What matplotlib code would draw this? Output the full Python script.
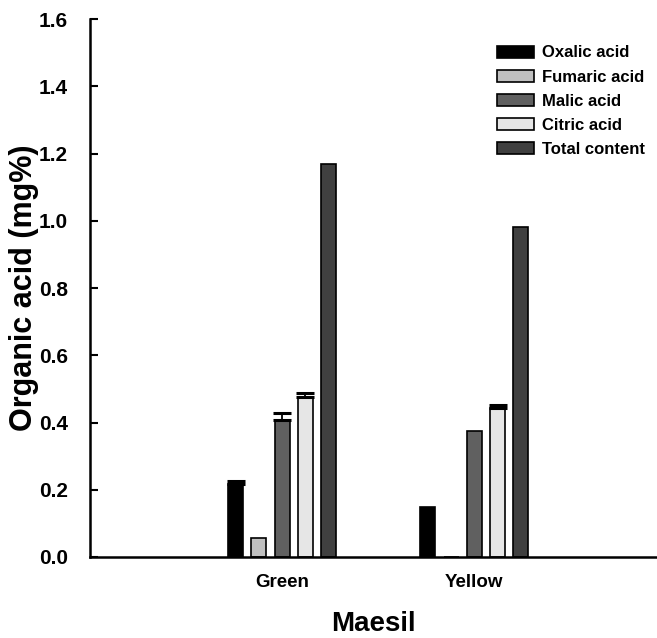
import matplotlib.pyplot as plt
import numpy as np

plt.rcParams['font.family'] = ['Liberation Sans', 'DejaVu Sans']
plt.rcParams['font.weight'] = 'bold'

# Daten
groups = ['Green', 'Yellow']
acids = ['Oxalic acid', 'Fumaric acid', 'Malic acid', 'Citric acid', 'Total content']
values = {
    'Oxalic acid': [0.217, 0.150],
    'Fumaric acid': [0.056, 0.0],
    'Malic acid': [0.406, 0.376],
    'Citric acid': [0.476, 0.444],
    'Total content': [1.170, 0.982],
}
errors = {
    'Oxalic acid': [0.009, 0.0],
    'Fumaric acid': [0.0, 0.0],
    'Malic acid': [0.022, 0.0],
    'Citric acid': [0.012, 0.008],
    'Total content': [0.0, 0.0],
}
colors = ['#000000', '#c0c0c0', '#606060', '#e6e6e6', '#404040']

fig = plt.figure(figsize=(6.57, 6.38), dpi=100)
ax = fig.add_axes([0.137, 0.127, 0.863, 0.843])

x = np.arange(1, len(groups) + 1)
width = 0.078
step = 0.121
for i, (acid, c) in enumerate(zip(acids, colors)):
    pos = x + (i - 2) * step
    vals = values[acid]
    err = errors[acid]
    ax.bar(pos, vals, width, color=c, edgecolor='black', linewidth=1.2, label=acid)
    for p, v, e in zip(pos, vals, err):
        if e > 0:
            ax.errorbar(p, v, yerr=[[0], [e]], fmt='none', ecolor='black',
                        elinewidth=1.3, capsize=6.2, capthick=2.2)

ax.set_xlim(0, 2.95)
ax.set_ylim(0, 1.6)
yt = np.arange(0, 1.61, 0.2)
ax.set_yticks(yt)
ax.set_yticklabels([f'{v:.1f}' for v in yt], fontsize=15, fontweight='bold')
ax.set_xticks(x)
ax.set_xticklabels(groups, fontsize=13.5, fontweight='bold')
ax.tick_params(axis='x', length=0, pad=12)
ax.tick_params(axis='y', direction='in', length=6, width=1.5, pad=16)

ax.spines['top'].set_visible(False)
ax.spines['right'].set_visible(False)
ax.spines['left'].set_linewidth(1.8)
ax.spines['bottom'].set_linewidth(1.8)

ax.set_ylabel('Organic acid (mg%)', fontsize=22, fontweight='bold')
ax.yaxis.set_label_coords(-0.09, 0.5)
ax.set_xlabel('Maesil', fontsize=20, fontweight='bold', labelpad=15)

ax.legend(loc='upper right', bbox_to_anchor=(1.006, 0.979), frameon=False,
          prop={'size': 12, 'weight': 'bold'}, handlelength=2.2, handleheight=0.75,
          labelspacing=0.55, handletextpad=0.5)

fig.savefig('out.png', dpi=100)
